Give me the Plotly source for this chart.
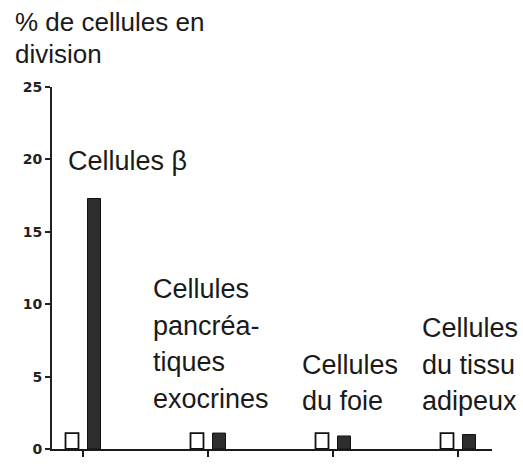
import plotly.graph_objects as go

# ---- data ----
categories = ["Cellules β", "Cellules pancréatiques exocrines", "Cellules du foie", "Cellules du tissu adipeux"]
control_values = [1.1, 1.1, 1.1, 1.1]      # white bars
treated_values = [17.3, 1.1, 0.9, 1.0]     # dark bars
y_ticks = [0, 5, 10, 15, 20, 25]
y_title_lines = ["% de cellules en", "division"]
group_label_lines = [
    ["Cellules β"],
    ["Cellules", "pancréa-", "tiques", "exocrines"],
    ["Cellules", "du foie"],
    ["Cellules", "du tissu", "adipeux"],
]

# ---- layout helpers (pixel geometry of the plot area) ----
W, H = 523, 468
L, R, T, B = 52, 31, 87, 11
PW, PH = W - L - R, H - T - B
FS = 27
FONT = "Liberation Sans, Arial, sans-serif"


def px_to_paper(x, y_baseline):
    xc = (x - L) / PW
    yc = (H - B - (y_baseline - 0.3465 * FS)) / PH
    return xc, yc


label_left = [68, 153, 302, 422]
label_first_baseline = [172, 303, 380, 343]
line_step = 37.3

fig = go.Figure()
fig.add_trace(go.Bar(
    x=categories, y=control_values,
    marker=dict(color="white", line=dict(color="#111111", width=1.8)),
    showlegend=False, hoverinfo="skip",
))
fig.add_trace(go.Bar(
    x=categories, y=treated_values,
    marker=dict(color="#2e2e2e", line=dict(color="#111111", width=1)),
    showlegend=False, hoverinfo="skip",
))

annotations = []
for gi, lines in enumerate(group_label_lines):
    for li, txt in enumerate(lines):
        xp, yp = px_to_paper(label_left[gi] - 2, label_first_baseline[gi] + li * line_step)
        annotations.append(dict(
            text=txt, xref="paper", yref="paper", x=xp, y=yp,
            xanchor="left", yanchor="middle", showarrow=False,
            font=dict(family=FONT, size=FS, color="#1a1a1a"),
        ))

for li, txt in enumerate(y_title_lines):
    xp, yp = px_to_paper(13, 30 + li * 33)
    annotations.append(dict(
        text=txt, xref="paper", yref="paper", x=xp, y=yp,
        xanchor="left", yanchor="middle", showarrow=False,
        font=dict(family=FONT, size=FS - 1, color="#1a1a1a"),
    ))

fig.update_layout(
    width=W, height=H,
    margin=dict(l=L, r=R, t=T, b=B, pad=0),
    paper_bgcolor="white", plot_bgcolor="white",
    barmode="group", bargap=0.648, bargroupgap=0.41,
    annotations=annotations,
    xaxis=dict(
        type="category", range=[-0.248, 3.272],
        showline=True, linecolor="#1a1a1a", linewidth=2,
        ticks="outside", ticklen=6, tickwidth=1.5, tickcolor="#1a1a1a",
        showticklabels=False, showgrid=False, zeroline=False,
    ),
    yaxis=dict(
        range=[0, 25], tickvals=y_ticks,
        showline=True, linecolor="#222222", linewidth=2,
        ticks="outside", ticklen=5, tickwidth=2, tickcolor="#222222",
        tickfont=dict(family="DejaVu Sans, sans-serif", size=14, color="#222222", weight="bold"),
        showgrid=False, zeroline=False,
    ),
)

fig.write_html(
    "out.html",
    config={"displayModeBar": False},
    post_script="document.body.style.margin='0';document.body.style.overflow='hidden';",
)
